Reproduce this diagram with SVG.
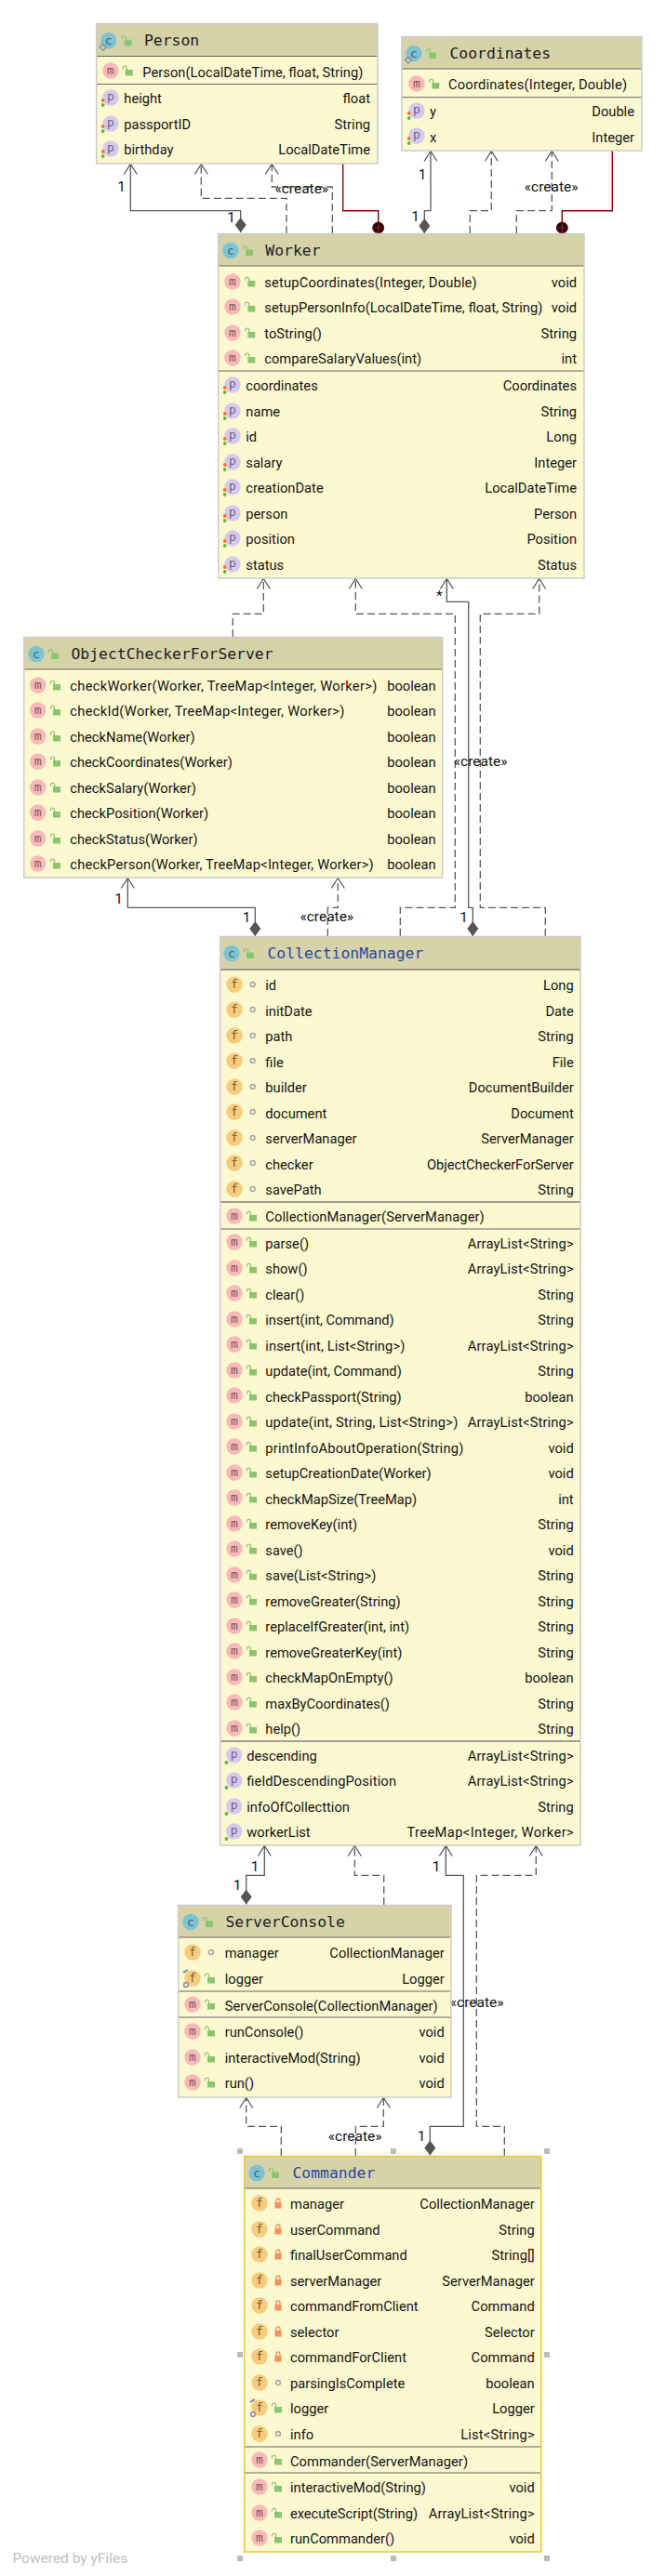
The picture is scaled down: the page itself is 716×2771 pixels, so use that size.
<svg xmlns="http://www.w3.org/2000/svg" xmlns:xlink="http://www.w3.org/1999/xlink" width="716" height="2771" viewBox="0 0 716 2771">
<style>
.body{fill:#fcf9d0}.head{fill:#d6d3a9}.frame{fill:none;stroke:#ccc;stroke-width:1.5}.frame2{fill:none;stroke:#f5c52a;stroke-width:1.5}
.sep{stroke:#666;stroke-width:1}.sep2{stroke:#808080;stroke-width:1.6}
text{font-family:"Roboto","Liberation Sans",sans-serif;font-size:14.7px;fill:#141414}
.r{text-anchor:end}
.title{font-family:"DejaVu Sans Mono","Liberation Mono",monospace;font-size:16.4px;fill:#1c1c1c}
.blue{fill:#2a45a5}
.ic{font-family:"DejaVu Sans Mono",monospace;font-size:13px;text-anchor:middle;fill:#6a5f5f}
.lbl{text-anchor:middle;font-size:15.5px;fill:#111}
.solid{fill:none;stroke:#5a5a5a;stroke-width:1.3}
.dash{fill:none;stroke:#5a5a5a;stroke-width:1.3;stroke-dasharray:8 4}
.red{fill:none;stroke:#8b0000;stroke-width:1.4}
.arrow{marker-end:url(#open)}.dia{marker-start:url(#dia)}.dot{marker-end:url(#dot)}
.h{fill:#bbb}
.foot{font-size:15.5px;fill:#c0c0c0}
</style>
<defs>
<marker id="open" markerUnits="userSpaceOnUse" viewBox="-13 -9 15 18" markerWidth="15" markerHeight="18" refX="0" refY="0" orient="auto"><path d="M-11,-7L0,0L-11,7" fill="none" stroke="#5a5a5a" stroke-width="1.3"/></marker>
<marker id="dia" markerUnits="userSpaceOnUse" viewBox="0 -7 17 14" markerWidth="17" markerHeight="14" refX="0" refY="0" orient="auto"><path d="M0,0L8,-6L16,0L8,6Z" fill="#555"/></marker>
<marker id="dot" markerUnits="userSpaceOnUse" viewBox="-8 -8 16 16" markerWidth="16" markerHeight="16" refX="0" refY="0" orient="auto"><circle r="6" fill="#111" stroke="#8b0000" stroke-width="1"/><path d="M-4,0H4M0,-4V4" stroke="#d00" stroke-width="1.2"/></marker>
<g id="c"><circle r="8.7" fill="#7cc3d3"/><text class="ic" y="4" style="fill:#44606a">c</text></g>
<g id="m"><circle r="8.7" fill="#fbb8b8"/><text class="ic" y="4" style="fill:#7a5a5a">m</text></g>
<g id="f"><circle r="8.7" fill="#f9cb7c"/><text class="ic" y="4" style="fill:#6f5f38">f</text></g>
<g id="p"><circle r="8.7" fill="#d7c9ec"/><text class="ic" y="3" style="fill:#6a6280">p</text></g>
<g id="po"><use href="#p"/><circle cx="-8.3" cy="3" r="1.9" fill="#f07a2a"/><circle cx="-8.3" cy="8" r="1.9" fill="#62b543"/></g>
<g id="pg"><use href="#p"/><circle cx="-8.3" cy="8" r="1.9" fill="#62b543"/></g>
<g id="fs"><use href="#f"/><path d="M-10,-6L-5,-9" stroke="#8a97a8" stroke-width="2.4"/><circle cx="-7" cy="7" r="2.4" fill="none" stroke="#8a97a8" stroke-width="1.6"/></g>
<g id="lo"><rect x="-3" y="-1" width="8" height="6.5" fill="#8cc56f"/><path d="M-1.5,-1V-3.5A2.2,2.2 0 0 0 -5.5,-3.5V-1.5" fill="none" stroke="#8cc56f" stroke-width="1.3"/></g>
<g id="lk"><rect x="-3.5" y="-1" width="7" height="6.5" fill="#f4925a"/><path d="M-2,-1V-3A2,2 0 0 1 2,-3V-1" fill="none" stroke="#f4925a" stroke-width="1.4"/></g>
<circle id="pk" r="2.4" fill="none" stroke="#aaa" stroke-width="1.6"/>
<g id="cs"><use href="#c"/><path d="M-6,3.5L-2.5,7L-6,10.5L-9.5,7Z" fill="none" stroke="#8a97a8" stroke-width="1.5"/></g>
</defs>
<rect width="716" height="2771" fill="#fff"/>
<g id="connectors">
<path class="solid dia arrow" d="M258.7,250V226.7H140.3V176.5"/>
<path class="dash arrow" d="M308,251V213.3H216.3V176.5"/>
<path class="dash arrow" d="M357.3,251V201H292.3V176.5"/>
<path class="red dot" d="M368.7,176V226.7H406.7V245"/>
<path class="solid dia arrow" d="M456.3,251V226.7H463V162.5"/>
<path class="dash arrow" d="M505.3,251V226.7H528.3V162.5"/>
<path class="dash arrow" d="M555.3,251V226.7H593.3V162.5"/>
<path class="red dot" d="M658.3,162V226.7H604.3V245"/>
<path class="dash arrow" d="M250.3,685V660.3H283.3V622.5"/>
<path class="dash arrow" d="M430.3,1007V976.3H489.3V660.3H382.3V622.5"/>
<path class="solid dia arrow" d="M508.3,1007V976.3H503.7V647.3H480.3V622.5"/>
<path class="dash arrow" d="M586.3,1007V976.3H516.3V660.3H579.7V622.5"/>
<path class="solid dia arrow" d="M274.3,1007V976.3H137.3V944.5"/>
<path class="dash arrow" d="M352.3,1007V976.3H363.3V944.5"/>
<path class="solid dia arrow" d="M264.7,2048.5V2017.3H284.3V1985.5"/>
<path class="dash arrow" d="M412.7,2049V2017.3H381.3V1985.5"/>
<path class="solid dia arrow" d="M462.3,2318.5V2287.3H498.3V2017.3H479.3V1985.5"/>
<path class="dash arrow" d="M542.3,2319V2287.3H512.3V2017.3H576.3V1985.5"/>
<path class="dash arrow" d="M302.3,2319V2287.3H264.7V2256.5"/>
<path class="dash arrow" d="M382.3,2319V2287.3H412.3V2256.5"/>
<g id="connector-labels">
<text class="lbl" x="130.7" y="206">1</text><text class="lbl" x="248.7" y="239">1</text>
<text class="lbl" x="324.3" y="208">«create»</text>
<text class="lbl" x="454" y="193">1</text><text class="lbl" x="446.7" y="238">1</text>
<text class="lbl" x="592.7" y="206">«create»</text>
<text class="lbl" x="472.3" y="646">*</text><text class="lbl" x="498.7" y="992">1</text>
<text class="lbl" x="516.7" y="824">«create»</text>
<text class="lbl" x="127.7" y="972">1</text><text class="lbl" x="265" y="992">1</text>
<text class="lbl" x="351.3" y="991">«create»</text>
<text class="lbl" x="274" y="2013">1</text><text class="lbl" x="255" y="2033">1</text>
<text class="lbl" x="469" y="2013">1</text><text class="lbl" x="453" y="2303">1</text>
<text class="lbl" x="512.7" y="2159">«create»</text>
<text class="lbl" x="381.7" y="2303">«create»</text>
</g>
</g>
<g id="node-person">
<rect class="body" x="103.7" y="25.5" width="302.3" height="150.5"/><rect class="head" x="103.7" y="25.5" width="302.3" height="35"/>
<path class="sep" d="M103.7,60.5H406M103.7,90.5H406"/><rect class="frame" x="103.7" y="25.5" width="302.3" height="150.5"/>
<use href="#cs" x="116.7" y="43.7"/><use href="#lo" x="136.7" y="43.7"/><text class="title" x="155" y="49">Person</text>
<use href="#m" x="119" y="76"/><use href="#lo" x="137.7" y="76"/><text x="153.3" y="83" textLength="237">Person(LocalDateTime, float, String)</text>
<use href="#po" x="119" y="105"/><text x="133.3" y="111">height</text><text class="r" x="398" y="111">float</text>
<use href="#po" x="119" y="133"/><text x="133.3" y="139">passportID</text><text class="r" x="398" y="139">String</text>
<use href="#po" x="119" y="160"/><text x="133.3" y="166">birthday</text><text class="r" x="398" y="166">LocalDateTime</text>
</g>
<g id="node-coordinates">
<rect class="body" x="432" y="39.5" width="258" height="122.5"/><rect class="head" x="432" y="39.5" width="258" height="34.5"/>
<path class="sep" d="M432,74H690M432,104.7H690"/><rect class="frame" x="432" y="39.5" width="258" height="122.5"/>
<use href="#cs" x="445" y="57.5"/><use href="#lo" x="464" y="57.5"/><text class="title" x="483.5" y="63">Coordinates</text>
<use href="#m" x="448" y="90"/><use href="#lo" x="467.3" y="90"/><text x="482" y="96" textLength="192">Coordinates(Integer, Double)</text>
<use href="#po" x="448" y="119"/><text x="462" y="125">y</text><text class="r" x="682" y="125">Double</text>
<use href="#po" x="448" y="146"/><text x="462" y="153">x</text><text class="r" x="682" y="153">Integer</text>
</g>
<g id="node-worker">
<rect class="body" x="234.7" y="251.5" width="393.3" height="370.5"/><rect class="head" x="234.7" y="251.5" width="393.3" height="34.5"/>
<path class="sep" d="M234.7,286H628M234.7,399H628"/><rect class="frame" x="234.7" y="251.5" width="393.3" height="370.5"/>
<use href="#c" x="248" y="269.5"/><use href="#lo" x="267" y="269.5"/><text class="title" x="285.3" y="275">Worker</text>
<use href="#m" x="250" y="303"/><use href="#lo" x="269.3" y="303"/><text x="284.3" y="309" textLength="228.4">setupCoordinates(Integer, Double)</text><text class="r" x="620" y="309">void</text>
<use href="#m" x="250" y="330"/><use href="#lo" x="269.3" y="330"/><text x="284.3" y="336" textLength="299">setupPersonInfo(LocalDateTime, float, String)</text><text class="r" x="620" y="336">void</text>
<use href="#m" x="250" y="358"/><use href="#lo" x="269.3" y="358"/><text x="284.3" y="364">toString()</text><text class="r" x="620" y="364">String</text>
<use href="#m" x="250" y="385"/><use href="#lo" x="269.3" y="385"/><text x="284.3" y="391">compareSalaryValues(int)</text><text class="r" x="620" y="391">int</text>
<use href="#po" x="250" y="414"/><text x="264.3" y="420">coordinates</text><text class="r" x="620" y="420">Coordinates</text>
<use href="#po" x="250" y="442"/><text x="264.3" y="448">name</text><text class="r" x="620" y="448">String</text>
<use href="#po" x="250" y="469"/><text x="264.3" y="475">id</text><text class="r" x="620" y="475">Long</text>
<use href="#po" x="250" y="497"/><text x="264.3" y="503">salary</text><text class="r" x="620" y="503">Integer</text>
<use href="#po" x="250" y="524"/><text x="264.3" y="530">creationDate</text><text class="r" x="620" y="530">LocalDateTime</text>
<use href="#po" x="250" y="552"/><text x="264.3" y="558">person</text><text class="r" x="620" y="558">Person</text>
<use href="#po" x="250" y="579"/><text x="264.3" y="585">position</text><text class="r" x="620" y="585">Position</text>
<use href="#po" x="250" y="607"/><text x="264.3" y="613">status</text><text class="r" x="620" y="613">Status</text>
</g>
<g id="node-objectchecker">
<rect class="body" x="25.7" y="685.5" width="450" height="258.5"/><rect class="head" x="25.7" y="685.5" width="450" height="34.5"/>
<path class="sep" d="M25.7,720H475.7"/><rect class="frame" x="25.7" y="685.5" width="450" height="258.5"/>
<use href="#c" x="39" y="703.5"/><use href="#lo" x="58" y="703.5"/><text class="title" x="76.5" y="709">ObjectCheckerForServer</text>
<use href="#m" x="40.7" y="737"/><use href="#lo" x="60" y="737"/><text x="75.3" y="743" textLength="330">checkWorker(Worker, TreeMap&lt;Integer, Worker&gt;)</text><text class="r" x="468.7" y="743">boolean</text>
<use href="#m" x="40.7" y="764"/><use href="#lo" x="60" y="764"/><text x="75.3" y="770" textLength="295">checkId(Worker, TreeMap&lt;Integer, Worker&gt;)</text><text class="r" x="468.7" y="770">boolean</text>
<use href="#m" x="40.7" y="792"/><use href="#lo" x="60" y="792"/><text x="75.3" y="798">checkName(Worker)</text><text class="r" x="468.7" y="798">boolean</text>
<use href="#m" x="40.7" y="819"/><use href="#lo" x="60" y="819"/><text x="75.3" y="825">checkCoordinates(Worker)</text><text class="r" x="468.7" y="825">boolean</text>
<use href="#m" x="40.7" y="847"/><use href="#lo" x="60" y="847"/><text x="75.3" y="853">checkSalary(Worker)</text><text class="r" x="468.7" y="853">boolean</text>
<use href="#m" x="40.7" y="874"/><use href="#lo" x="60" y="874"/><text x="75.3" y="880">checkPosition(Worker)</text><text class="r" x="468.7" y="880">boolean</text>
<use href="#m" x="40.7" y="902"/><use href="#lo" x="60" y="902"/><text x="75.3" y="908">checkStatus(Worker)</text><text class="r" x="468.7" y="908">boolean</text>
<use href="#m" x="40.7" y="929"/><use href="#lo" x="60" y="929"/><text x="75.3" y="935" textLength="326.4">checkPerson(Worker, TreeMap&lt;Integer, Worker&gt;)</text><text class="r" x="468.7" y="935">boolean</text>
</g>
<g id="node-collectionmanager">
<rect class="body" x="236.7" y="1007.5" width="387.3" height="977.5"/><rect class="head" x="236.7" y="1007.5" width="387.3" height="35.5"/>
<path class="sep2" d="M236.7,1043H624M236.7,1293H624"/><path class="sep" d="M236.7,1322H624"/><path class="sep2" d="M236.7,1873H624"/><rect class="frame" x="236.7" y="1007.5" width="387.3" height="977.5"/>
<use href="#c" x="249" y="1025.5"/><use href="#lo" x="268" y="1025.5"/><text class="title blue" x="287.5" y="1031">CollectionManager</text>
<use href="#f" x="252" y="1059"/><use href="#pk" x="271.7" y="1059"/><text x="285.3" y="1065">id</text><text class="r" x="616.7" y="1065">Long</text>
<use href="#f" x="252" y="1086"/><use href="#pk" x="271.7" y="1086"/><text x="285.3" y="1093">initDate</text><text class="r" x="616.7" y="1093">Date</text>
<use href="#f" x="252" y="1114"/><use href="#pk" x="271.7" y="1114"/><text x="285.3" y="1120">path</text><text class="r" x="616.7" y="1120">String</text>
<use href="#f" x="252" y="1141"/><use href="#pk" x="271.7" y="1141"/><text x="285.3" y="1148">file</text><text class="r" x="616.7" y="1148">File</text>
<use href="#f" x="252" y="1169"/><use href="#pk" x="271.7" y="1169"/><text x="285.3" y="1175">builder</text><text class="r" x="616.7" y="1175">DocumentBuilder</text>
<use href="#f" x="252" y="1196"/><use href="#pk" x="271.7" y="1196"/><text x="285.3" y="1203">document</text><text class="r" x="616.7" y="1203">Document</text>
<use href="#f" x="252" y="1224"/><use href="#pk" x="271.7" y="1224"/><text x="285.3" y="1230">serverManager</text><text class="r" x="616.7" y="1230">ServerManager</text>
<use href="#f" x="252" y="1251"/><use href="#pk" x="271.7" y="1251"/><text x="285.3" y="1258">checker</text><text class="r" x="616.7" y="1258" textLength="157.7">ObjectCheckerForServer</text>
<use href="#f" x="252" y="1279"/><use href="#pk" x="271.7" y="1279"/><text x="285.3" y="1285">savePath</text><text class="r" x="616.7" y="1285">String</text>
<use href="#m" x="252" y="1308"/><use href="#lo" x="271" y="1308"/><text x="285.3" y="1314" textLength="235.4">CollectionManager(ServerManager)</text>
<use href="#m" x="252" y="1336"/><use href="#lo" x="271" y="1336"/><text x="285.3" y="1343">parse()</text><text class="r" x="616.7" y="1343" textLength="114">ArrayList&lt;String&gt;</text>
<use href="#m" x="252" y="1364"/><use href="#lo" x="271" y="1364"/><text x="285.3" y="1370">show()</text><text class="r" x="616.7" y="1370" textLength="114">ArrayList&lt;String&gt;</text>
<use href="#m" x="252" y="1391"/><use href="#lo" x="271" y="1391"/><text x="285.3" y="1398">clear()</text><text class="r" x="616.7" y="1398">String</text>
<use href="#m" x="252" y="1419"/><use href="#lo" x="271" y="1419"/><text x="285.3" y="1425">insert(int, Command)</text><text class="r" x="616.7" y="1425">String</text>
<use href="#m" x="252" y="1446"/><use href="#lo" x="271" y="1446"/><text x="285.3" y="1453" textLength="150">insert(int, List&lt;String&gt;)</text><text class="r" x="616.7" y="1453" textLength="114">ArrayList&lt;String&gt;</text>
<use href="#m" x="252" y="1474"/><use href="#lo" x="271" y="1474"/><text x="285.3" y="1480">update(int, Command)</text><text class="r" x="616.7" y="1480">String</text>
<use href="#m" x="252" y="1501"/><use href="#lo" x="271" y="1501"/><text x="285.3" y="1508">checkPassport(String)</text><text class="r" x="616.7" y="1508">boolean</text>
<use href="#m" x="252" y="1529"/><use href="#lo" x="271" y="1529"/><text x="285.3" y="1535" textLength="207">update(int, String, List&lt;String&gt;)</text><text class="r" x="616.7" y="1535" textLength="114">ArrayList&lt;String&gt;</text>
<use href="#m" x="252" y="1556"/><use href="#lo" x="271" y="1556"/><text x="285.3" y="1563" textLength="213">printInfoAboutOperation(String)</text><text class="r" x="616.7" y="1563">void</text>
<use href="#m" x="252" y="1584"/><use href="#lo" x="271" y="1584"/><text x="285.3" y="1590">setupCreationDate(Worker)</text><text class="r" x="616.7" y="1590">void</text>
<use href="#m" x="252" y="1611"/><use href="#lo" x="271" y="1611"/><text x="285.3" y="1618">checkMapSize(TreeMap)</text><text class="r" x="616.7" y="1618">int</text>
<use href="#m" x="252" y="1639"/><use href="#lo" x="271" y="1639"/><text x="285.3" y="1645">removeKey(int)</text><text class="r" x="616.7" y="1645">String</text>
<use href="#m" x="252" y="1666"/><use href="#lo" x="271" y="1666"/><text x="285.3" y="1673">save()</text><text class="r" x="616.7" y="1673">void</text>
<use href="#m" x="252" y="1694"/><use href="#lo" x="271" y="1694"/><text x="285.3" y="1700" textLength="119">save(List&lt;String&gt;)</text><text class="r" x="616.7" y="1700">String</text>
<use href="#m" x="252" y="1721"/><use href="#lo" x="271" y="1721"/><text x="285.3" y="1728">removeGreater(String)</text><text class="r" x="616.7" y="1728">String</text>
<use href="#m" x="252" y="1749"/><use href="#lo" x="271" y="1749"/><text x="285.3" y="1755">replaceIfGreater(int, int)</text><text class="r" x="616.7" y="1755">String</text>
<use href="#m" x="252" y="1776"/><use href="#lo" x="271" y="1776"/><text x="285.3" y="1783">removeGreaterKey(int)</text><text class="r" x="616.7" y="1783">String</text>
<use href="#m" x="252" y="1804"/><use href="#lo" x="271" y="1804"/><text x="285.3" y="1810">checkMapOnEmpty()</text><text class="r" x="616.7" y="1810">boolean</text>
<use href="#m" x="252" y="1831"/><use href="#lo" x="271" y="1831"/><text x="285.3" y="1838">maxByCoordinates()</text><text class="r" x="616.7" y="1838">String</text>
<use href="#m" x="252" y="1859"/><use href="#lo" x="271" y="1859"/><text x="285.3" y="1865">help()</text><text class="r" x="616.7" y="1865">String</text>
<use href="#pg" x="251.7" y="1888"/><text x="265.3" y="1894">descending</text><text class="r" x="616.7" y="1894" textLength="114">ArrayList&lt;String&gt;</text>
<use href="#pg" x="251.7" y="1915"/><text x="265.3" y="1921" textLength="160.7">fieldDescendingPosition</text><text class="r" x="616.7" y="1921" textLength="114">ArrayList&lt;String&gt;</text>
<use href="#pg" x="251.7" y="1943"/><text x="265.3" y="1949">infoOfCollecttion</text><text class="r" x="616.7" y="1949">String</text>
<use href="#pg" x="251.7" y="1970"/><text x="265.3" y="1976">workerList</text><text class="r" x="616.7" y="1976" textLength="179.3">TreeMap&lt;Integer, Worker&gt;</text>
</g>
<g id="node-serverconsole">
<rect class="body" x="191.7" y="2049.5" width="293.3" height="206.5"/><rect class="head" x="191.7" y="2049.5" width="293.3" height="34.5"/>
<path class="sep" d="M191.7,2084H485M191.7,2142H485M191.7,2170H485"/><rect class="frame" x="191.7" y="2049.5" width="293.3" height="206.5"/>
<use href="#c" x="205" y="2067.5"/><use href="#lo" x="224" y="2067.5"/><text class="title" x="242.5" y="2073">ServerConsole</text>
<use href="#f" x="207" y="2100"/><use href="#pk" x="227" y="2100"/><text x="241.7" y="2106">manager</text><text class="r" x="477.7" y="2106">CollectionManager</text>
<use href="#fs" x="207" y="2128"/><use href="#lo" x="226" y="2128"/><text x="241.7" y="2134">logger</text><text class="r" x="477.7" y="2134">Logger</text>
<use href="#m" x="207" y="2156"/><use href="#lo" x="226" y="2156"/><text x="241.7" y="2163" textLength="229">ServerConsole(CollectionManager)</text>
<use href="#m" x="207" y="2185"/><use href="#lo" x="226" y="2185"/><text x="241.7" y="2191">runConsole()</text><text class="r" x="477.7" y="2191">void</text>
<use href="#m" x="207" y="2213"/><use href="#lo" x="226" y="2213"/><text x="241.7" y="2219">interactiveMod(String)</text><text class="r" x="477.7" y="2219">void</text>
<use href="#m" x="207" y="2240"/><use href="#lo" x="226" y="2240"/><text x="241.7" y="2246">run()</text><text class="r" x="477.7" y="2246">void</text>
</g>
<g id="node-commander">
<rect class="body" x="262.7" y="2319.5" width="319" height="425.5"/><rect class="head" x="262.7" y="2319.5" width="319" height="34.5"/>
<path class="sep" d="M262.7,2354H581.7"/><path class="sep" d="M262.7,2632H581.7M262.7,2660H581.7"/><rect class="frame2" x="262.7" y="2319.5" width="319" height="425.5"/>
<use href="#c" x="276" y="2337.5"/><use href="#lo" x="295" y="2337.5"/><text class="title blue" x="314.5" y="2343">Commander</text>
<use href="#f" x="279" y="2370"/><use href="#lk" x="299" y="2370"/><text x="312" y="2376">manager</text><text class="r" x="574.7" y="2376">CollectionManager</text>
<use href="#f" x="279" y="2398"/><use href="#lk" x="299" y="2398"/><text x="312" y="2404">userCommand</text><text class="r" x="574.7" y="2404">String</text>
<use href="#f" x="279" y="2425"/><use href="#lk" x="299" y="2425"/><text x="312" y="2431">finalUserCommand</text><text class="r" x="574.7" y="2431">String[]</text>
<use href="#f" x="279" y="2453"/><use href="#lk" x="299" y="2453"/><text x="312" y="2459">serverManager</text><text class="r" x="574.7" y="2459">ServerManager</text>
<use href="#f" x="279" y="2480"/><use href="#lk" x="299" y="2480"/><text x="312" y="2486">commandFromClient</text><text class="r" x="574.7" y="2486">Command</text>
<use href="#f" x="279" y="2508"/><use href="#lk" x="299" y="2508"/><text x="312" y="2514">selector</text><text class="r" x="574.7" y="2514">Selector</text>
<use href="#f" x="279" y="2535"/><use href="#lk" x="299" y="2535"/><text x="312" y="2541">commandForClient</text><text class="r" x="574.7" y="2541">Command</text>
<use href="#f" x="279" y="2563"/><use href="#pk" x="299" y="2563"/><text x="312" y="2569">parsingIsComplete</text><text class="r" x="574.7" y="2569">boolean</text>
<use href="#fs" x="279" y="2590"/><use href="#lo" x="298" y="2590"/><text x="312" y="2596">logger</text><text class="r" x="574.7" y="2596">Logger</text>
<use href="#f" x="279" y="2618"/><use href="#pk" x="299" y="2618"/><text x="312" y="2624">info</text><text class="r" x="574.7" y="2624" textLength="79.5">List&lt;String&gt;</text>
<use href="#m" x="279" y="2646"/><use href="#lo" x="298" y="2646"/><text x="312" y="2653" textLength="191">Commander(ServerManager)</text>
<use href="#m" x="279" y="2675"/><use href="#lo" x="298" y="2675"/><text x="312" y="2681">interactiveMod(String)</text><text class="r" x="574.7" y="2681">void</text>
<use href="#m" x="279" y="2703"/><use href="#lo" x="298" y="2703"/><text x="312" y="2709" textLength="137">executeScript(String)</text><text class="r" x="574.7" y="2709" textLength="114">ArrayList&lt;String&gt;</text>
<use href="#m" x="279" y="2730"/><use href="#lo" x="298" y="2730"/><text x="312" y="2736">runCommander()</text><text class="r" x="574.7" y="2736">void</text>
</g>
<g id="selection-handles">
<rect class="h" x="255" y="2311" width="6" height="6"/><rect class="h" x="420" y="2311" width="6" height="6"/><rect class="h" x="585" y="2311" width="6" height="6"/>
<rect class="h" x="255" y="2530" width="6" height="6"/><rect class="h" x="585" y="2530" width="6" height="6"/>
<rect class="h" x="255" y="2749" width="6" height="6"/><rect class="h" x="420" y="2749" width="6" height="6"/><rect class="h" x="585" y="2749" width="6" height="6"/>
</g>
<text class="foot" x="13.4" y="2757">Powered by yFiles</text>
</svg>
